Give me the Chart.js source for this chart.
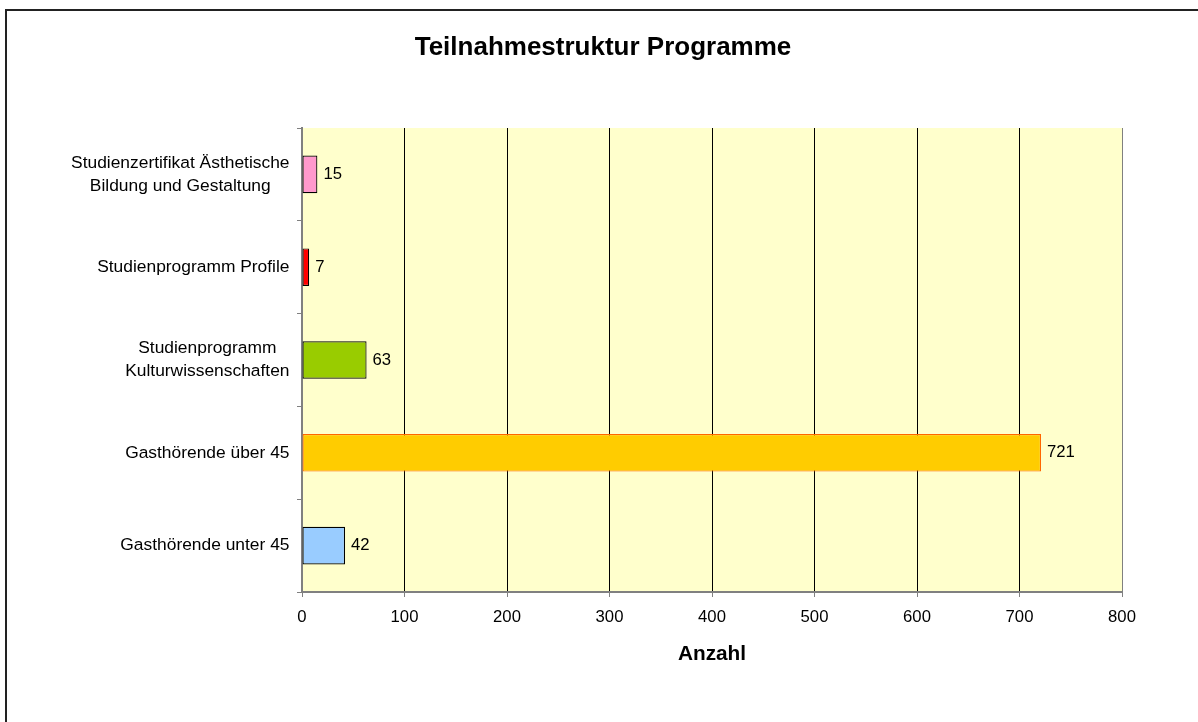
<!DOCTYPE html>
<html lang="de">
<head>
<meta charset="utf-8">
<title>Teilnahmestruktur Programme</title>
<script src="https://cdn.jsdelivr.net/npm/chart.js@4.4.1/dist/chart.umd.min.js"></script>
<style>
  html, body { margin: 0; padding: 0; background: #fff; }
  canvas { display: block; }
</style>
</head>
<body>
<canvas id="chart" width="1198" height="722"></canvas>
<script>
// Daten (von oben nach unten)
const chartTitle = "Teilnahmestruktur Programme";
const categories = [
  ["Studienzertifikat Ästhetische", "Bildung und Gestaltung"],
  "Studienprogramm Profile",
  ["Studienprogramm", "Kulturwissenschaften"],
  "Gasthörende über 45",
  "Gasthörende unter 45"
];
const values = [15, 7, 63, 721, 42];
const barColors = ["#FF99CC", "#FF0000", "#99CC00", "#FFCC00", "#99CCFF"];
const barBorders = ["#000000", "#000000", "#000000", "#FF6600", "#000000"];
const xMin = 0;
const xMax = 800;
const xStep = 100;

const FONT = "Arial, 'Liberation Sans', sans-serif";
const TICK_SIZE = 16.7;
const CAT_SIZE = 17.4;

// Rahmen links/oben + Titel über die ganze Breite
const framePlugin = {
  id: "frame",
  beforeDraw(chart) {
    const ctx = chart.ctx;
    const a = chart.chartArea;
    ctx.save();
    ctx.fillStyle = "#222";
    ctx.fillRect(5, 9, 2, chart.height);
    ctx.fillRect(5, 9, chart.width, 2);
    // Hintergrund der Zeichenfläche
    ctx.fillStyle = "#FFFFCC";
    ctx.fillRect(a.left, a.top, a.right - a.left, a.bottom - a.top);
    // Titel
    ctx.fillStyle = "#000";
    ctx.font = "bold 26px " + FONT;
    ctx.textAlign = "center";
    ctx.textBaseline = "middle";
    ctx.fillText(chartTitle, 603, 47.5);
    ctx.restore();
  }
};

// Kategorien-Beschriftung: mehrzeilig zentriert, rechtsbündig als Block
const yLabelPlugin = {
  id: "yLabels",
  afterDraw(chart) {
    const ctx = chart.ctx;
    const yScale = chart.scales.y;
    const rightEdge = chart.chartArea.left - 12.5;
    ctx.save();
    ctx.font = CAT_SIZE + "px " + FONT;
    ctx.fillStyle = "#000";
    ctx.textAlign = "center";
    ctx.textBaseline = "middle";
    categories.forEach((label, i) => {
      const lines = Array.isArray(label) ? label : [label];
      const maxW = Math.max(...lines.map(l => ctx.measureText(l).width));
      const cx = rightEdge - maxW / 2;
      const cy = yScale.getPixelForValue(i);
      lines.forEach((line, j) => {
        ctx.fillText(line, cx, cy + (j - (lines.length - 1) / 2) * 23);
      });
    });
    ctx.restore();
  }
};

// Werte an den Balkenenden
const valueLabelPlugin = {
  id: "valueLabels",
  afterDatasetsDraw(chart) {
    const ctx = chart.ctx;
    const meta = chart.getDatasetMeta(0);
    ctx.save();
    ctx.font = TICK_SIZE + "px " + FONT;
    ctx.fillStyle = "#000";
    ctx.textAlign = "left";
    ctx.textBaseline = "middle";
    meta.data.forEach((bar, i) => {
      ctx.fillText(String(values[i]), bar.x + 6, bar.y);
    });
    ctx.restore();
  }
};

new Chart(document.getElementById("chart"), {
  type: "bar",
  data: {
    labels: categories,
    datasets: [{
      data: values,
      backgroundColor: barColors,
      borderColor: barBorders,
      borderWidth: 1.2,
      borderSkipped: false,
      barPercentage: 0.405,
      categoryPercentage: 1
    }]
  },
  options: {
    indexAxis: "y",
    responsive: false,
    animation: false,
    devicePixelRatio: 1,
    layout: { padding: { left: 0, right: 76, top: 128, bottom: 0 } },
    plugins: {
      legend: { display: false },
      tooltip: { enabled: false },
      title: { display: false }
    },
    scales: {
      y: {
        type: "category",
        offset: true,
        grid: {
          offset: true,
          drawOnChartArea: false,
          tickLength: 5,
          tickColor: "#808080"
        },
        border: { color: "#808080", width: 2 },
        ticks: { display: false },
        afterFit(scale) { scale.width = 302; }
      },
      x: {
        min: xMin,
        max: xMax,
        ticks: {
          stepSize: xStep,
          padding: 10,
          color: "#000",
          font: { family: FONT, size: TICK_SIZE }
        },
        grid: {
          color: (c) => (c.tick && (c.tick.value === xMax || c.tick.value === xMin)) ? "#808080" : "#000",
          tickColor: "#808080",
          tickLength: 5,
          lineWidth: 1
        },
        border: { color: "#808080", width: 2 },
        title: {
          display: true,
          text: "Anzahl",
          color: "#000",
          font: { family: FONT, size: 20.8, weight: "bold", lineHeight: 1.2 },
          padding: { top: 0, bottom: 55 }
        },
        afterFit(scale) { scale.height = 130; }
      }
    }
  },
  plugins: [framePlugin, yLabelPlugin, valueLabelPlugin]
});
</script>
</body>
</html>
